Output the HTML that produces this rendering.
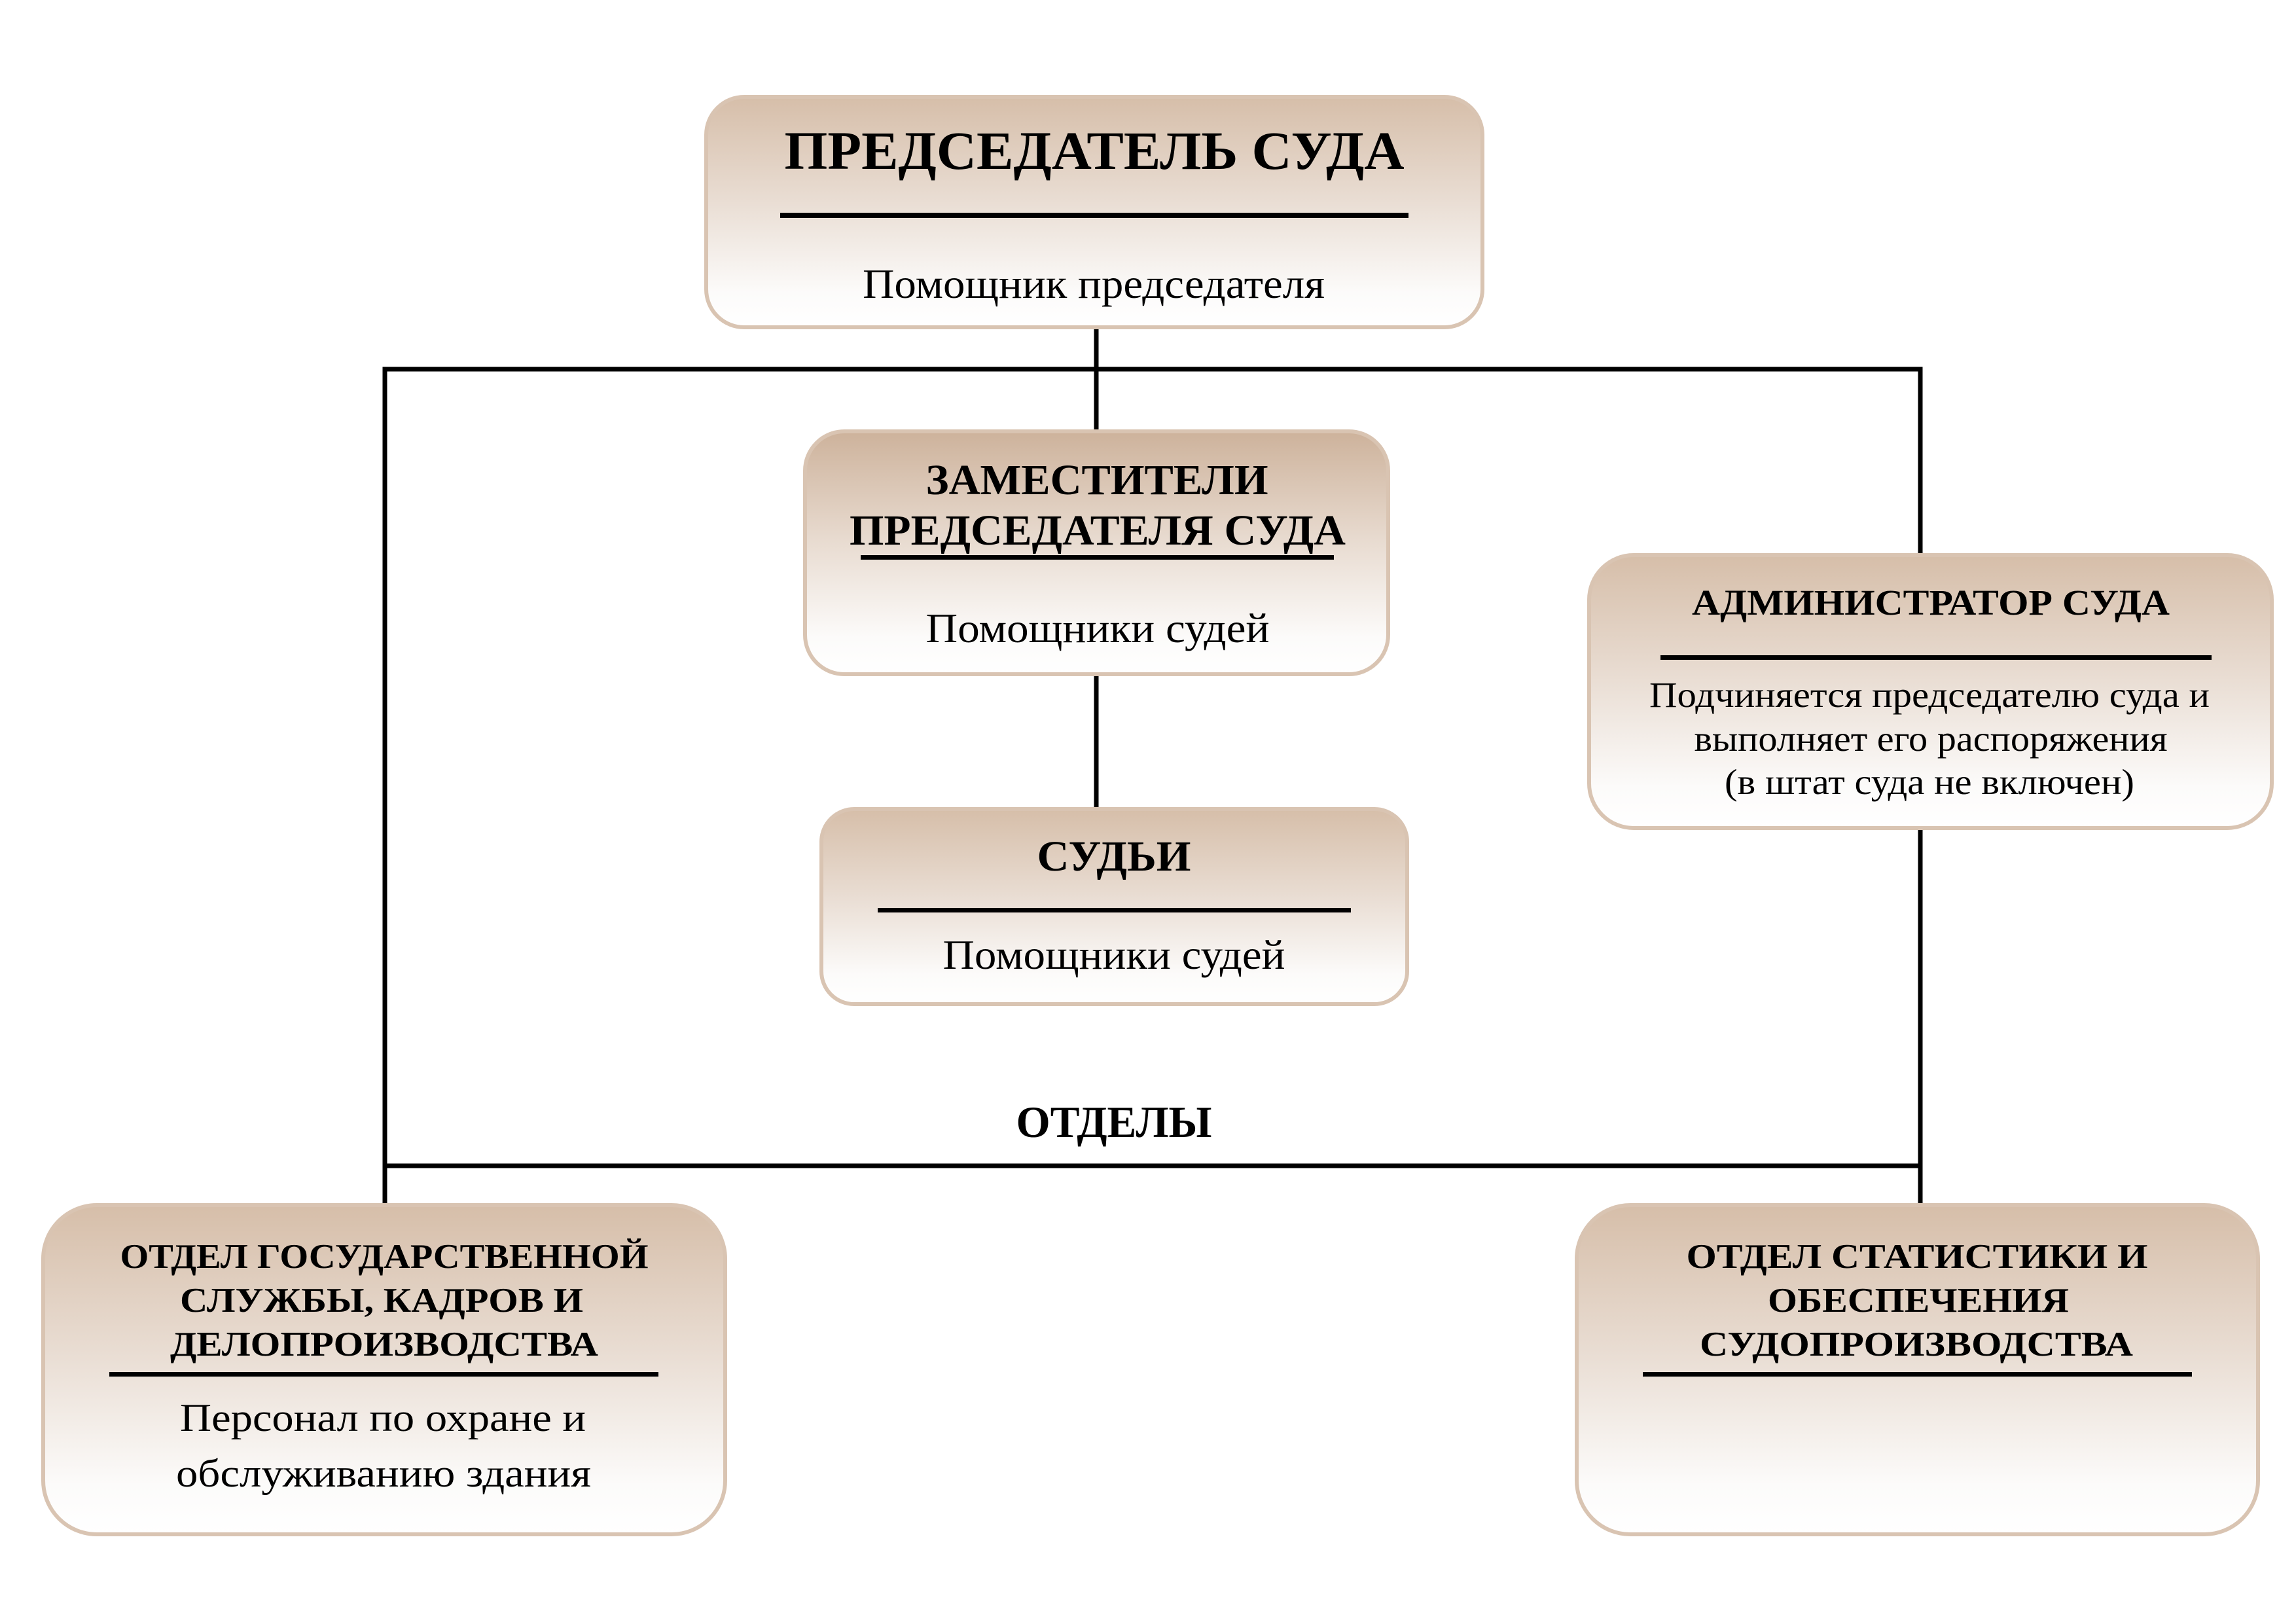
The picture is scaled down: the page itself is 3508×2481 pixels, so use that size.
<!DOCTYPE html>
<html>
<head>
<meta charset="utf-8">
<style>
  html, body { margin: 0; padding: 0; background: #ffffff; }
  body { width: 3508px; height: 2481px; overflow: hidden; }
  svg { display: block; }
  text { font-family: "Liberation Serif", "DejaVu Serif", serif; fill: #000; }
  .b { font-weight: bold; }
</style>
</head>
<body>
<svg width="3508" height="2481" viewBox="0 0 3508 2481" xmlns="http://www.w3.org/2000/svg">
  <defs>
    <linearGradient id="g" x1="0" y1="0" x2="0" y2="1">
      <stop offset="0" stop-color="#d6bea9"/>
      <stop offset="0.45" stop-color="#e9ddd3"/>
      <stop offset="0.85" stop-color="#fcfbfa"/>
      <stop offset="1" stop-color="#ffffff"/>
    </linearGradient>
    <linearGradient id="g2" x1="0" y1="0" x2="0" y2="1">
      <stop offset="0" stop-color="#cdb29b"/>
      <stop offset="0.45" stop-color="#e8dbd0"/>
      <stop offset="0.85" stop-color="#fcfbfa"/>
      <stop offset="1" stop-color="#ffffff"/>
    </linearGradient>
  </defs>

  <rect x="0" y="0" width="3508" height="2481" fill="#ffffff"/>

  <!-- connector lines -->
  <g stroke="#000" stroke-width="7" fill="none" stroke-linecap="square">
    <line x1="588" y1="564" x2="2934" y2="564"/>
    <line x1="588" y1="564" x2="588" y2="1840"/>
    <line x1="2934" y1="564" x2="2934" y2="846"/>
    <line x1="2934" y1="1268" x2="2934" y2="1840"/>
    <line x1="588" y1="1781" x2="2934" y2="1781"/>
    <line x1="1675" y1="503" x2="1675" y2="657"/>
    <line x1="1675" y1="1033" x2="1675" y2="1234"/>
  </g>

  <!-- boxes -->
  <g stroke="#d9c4b2" stroke-width="6">
    <rect x="1079" y="148" width="1186" height="352" rx="58" ry="58" fill="url(#g)"/>
    <rect x="1230" y="659" width="891" height="371" rx="60" ry="60" fill="url(#g2)"/>
    <rect x="1255" y="1236" width="895" height="298" rx="50" ry="50" fill="url(#g)"/>
    <rect x="2428" y="848" width="1043" height="417" rx="68" ry="68" fill="url(#g)"/>
    <rect x="66" y="1841" width="1042" height="503" rx="82" ry="82" fill="url(#g)"/>
    <rect x="2409" y="1841" width="1041" height="503" rx="82" ry="82" fill="url(#g)"/>
  </g>

  <!-- rules inside boxes -->
  <g fill="#000">
    <rect x="1192" y="325" width="960" height="8"/>
    <rect x="1315" y="848" width="723" height="7"/>
    <rect x="1341" y="1387" width="723" height="7"/>
    <rect x="2537" y="1001" width="842" height="7"/>
    <rect x="167" y="2096" width="839" height="7"/>
    <rect x="2510" y="2096" width="839" height="7"/>
  </g>

  <!-- top box -->
  <text class="b" x="1672" y="258" font-size="83" text-anchor="middle" textLength="947" lengthAdjust="spacingAndGlyphs">ПРЕДСЕДАТЕЛЬ СУДА</text>
  <text x="1671" y="455" font-size="64" text-anchor="middle" textLength="706" lengthAdjust="spacingAndGlyphs">Помощник председателя</text>

  <!-- deputies -->
  <text class="b" x="1676" y="755" font-size="66" text-anchor="middle" textLength="523" lengthAdjust="spacingAndGlyphs">ЗАМЕСТИТЕЛИ</text>
  <text class="b" x="1677" y="832" font-size="66" text-anchor="middle" textLength="758" lengthAdjust="spacingAndGlyphs">ПРЕДСЕДАТЕЛЯ СУДА</text>
  <text x="1677" y="981" font-size="64" text-anchor="middle" textLength="525" lengthAdjust="spacingAndGlyphs">Помощники судей</text>

  <!-- judges -->
  <text class="b" x="1702" y="1330" font-size="66" text-anchor="middle" textLength="235" lengthAdjust="spacingAndGlyphs">СУДЬИ</text>
  <text x="1702" y="1480" font-size="64" text-anchor="middle" textLength="523" lengthAdjust="spacingAndGlyphs">Помощники судей</text>

  <!-- administrator -->
  <text class="b" x="2950" y="939" font-size="55" text-anchor="middle" textLength="730" lengthAdjust="spacingAndGlyphs">АДМИНИСТРАТОР СУДА</text>
  <text x="2948" y="1080" font-size="55" text-anchor="middle" textLength="856" lengthAdjust="spacingAndGlyphs">Подчиняется председателю суда и</text>
  <text x="2950" y="1147" font-size="55" text-anchor="middle" textLength="723" lengthAdjust="spacingAndGlyphs">выполняет его распоряжения</text>
  <text x="2948" y="1213" font-size="55" text-anchor="middle" textLength="626" lengthAdjust="spacingAndGlyphs">(в штат суда не включен)</text>

  <!-- ОТДЕЛЫ -->
  <text class="b" x="1702" y="1737" font-size="68" text-anchor="middle" textLength="299" lengthAdjust="spacingAndGlyphs">ОТДЕЛЫ</text>

  <!-- bottom left -->
  <text class="b" x="587" y="1937" font-size="53" text-anchor="middle" textLength="807" lengthAdjust="spacingAndGlyphs">ОТДЕЛ ГОСУДАРСТВЕННОЙ</text>
  <text class="b" x="583" y="2004" font-size="53" text-anchor="middle" textLength="616" lengthAdjust="spacingAndGlyphs">СЛУЖБЫ, КАДРОВ И</text>
  <text class="b" x="587" y="2071" font-size="53" text-anchor="middle" textLength="654" lengthAdjust="spacingAndGlyphs">ДЕЛОПРОИЗВОДСТВА</text>
  <text x="585" y="2186" font-size="60" text-anchor="middle" textLength="620" lengthAdjust="spacingAndGlyphs">Персонал по охране и</text>
  <text x="586" y="2271" font-size="60" text-anchor="middle" textLength="634" lengthAdjust="spacingAndGlyphs">обслуживанию здания</text>

  <!-- bottom right -->
  <text class="b" x="2929" y="1937" font-size="53" text-anchor="middle" textLength="705" lengthAdjust="spacingAndGlyphs">ОТДЕЛ СТАТИСТИКИ И</text>
  <text class="b" x="2931" y="2004" font-size="53" text-anchor="middle" textLength="460" lengthAdjust="spacingAndGlyphs">ОБЕСПЕЧЕНИЯ</text>
  <text class="b" x="2928" y="2071" font-size="53" text-anchor="middle" textLength="662" lengthAdjust="spacingAndGlyphs">СУДОПРОИЗВОДСТВА</text>
</svg>
</body>
</html>
